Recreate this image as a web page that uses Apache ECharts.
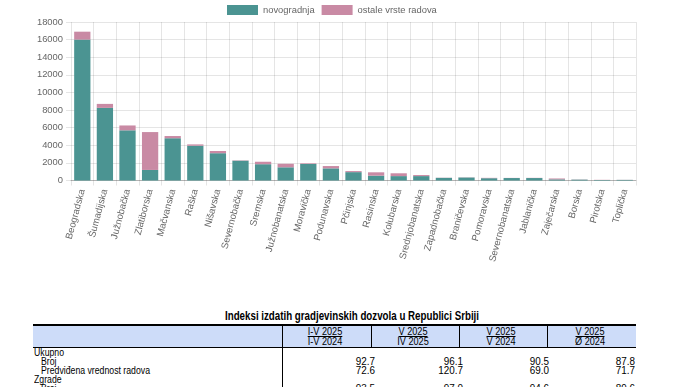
<!DOCTYPE html>
<html>
<head>
<meta charset="utf-8">
<script src="https://cdn.jsdelivr.net/npm/echarts@6/dist/echarts.min.js"></script>
<style>
  html, body { margin: 0; padding: 0; background: #fff; }
  body { width: 688px; height: 387px; position: relative; overflow: hidden; }
  #chart { position: absolute; left: 0; top: 0; width: 688px; height: 300px; }
  .t { position: absolute; font-family: "Liberation Sans", Arial, sans-serif; color: #000; white-space: nowrap; }
</style>
</head>
<body>
<div id="chart"></div>
<div id="table"></div>
<script>
// ---- chart data ----
const categories = ["Beogradska","Šumadijska","Južnobačka","Zlatiborska","Mačvanska","Raška","Nišavska","Severnobačka","Sremska","Južnobanatska","Moravička","Podunavska","Pčinjska","Rasinska","Kolubarska","Srednjobanatska","Zapadnobačka","Braničevska","Pomoravska","Severnobanatska","Jablanička","Zaječarska","Borska","Pirotska","Toplička"];
const novogradnja = [16000,8250,5700,1200,4800,3950,3100,2250,1850,1500,1880,1380,950,550,500,500,300,340,260,280,280,130,100,60,70];
const ostaleVrsteRadova = [900,450,550,4300,250,150,250,40,280,400,70,260,120,380,320,120,20,20,40,15,20,100,20,20,10];
const seriesNames = ["novogradnja","ostale vrste radova"];
const yTicks = { min: 0, max: 18000, interval: 2000 };

// ---- table data ----
const tableTitle = "Indeksi izdatih gradjevinskih dozvola u Republici Srbiji";
const headerTop = ["I-V 2025","V 2025","V 2025","V 2025"];
const headerBottom = ["I-V 2024","IV 2025","V 2024","Ø 2024"];
const rowLabels = ["Ukupno","Broj","Predviđena vrednost radova","Zgrade","Broj"];
const rowIndent = [false,true,true,false,true];
const rowValues = [null,["92.7","96.1","90.5","87.8"],["72.6","120.7","69.0","71.7"],null,["93.5","97.0","94.6","89.6"]];

const teal = "#4b9492", pink = "#c98aa4";
const chart = echarts.init(document.getElementById('chart'), null, { renderer: 'canvas' });
const font = '"Liberation Sans", Arial, sans-serif';
const grid = 'rgba(0,0,0,0.1)';
chart.setOption({
  animation: false,
  legend: {
    top: 5, left: 227, padding: 0, itemWidth: 31, itemHeight: 10, itemGap: 7,
    icon: 'rect',
    textStyle: { fontSize: 9.4, color: '#666', fontFamily: font },
    data: seriesNames
  },
  grid: { left: 71, top: 22, width: 565, height: 158.5 },
  xAxis: {
    type: 'category', data: categories,
    axisLine: { lineStyle: { color: 'rgba(0,0,0,0.22)' } },
    axisTick: { show: true, interval: 0, length: 5, lineStyle: { color: grid } },
    splitLine: { show: true, interval: 0, lineStyle: { color: grid } },
    axisLabel: { interval: 0, rotate: 75, fontSize: 9.6, color: '#666', fontFamily: font, margin: 9 }
  },
  yAxis: {
    type: 'value', min: yTicks.min, max: yTicks.max, interval: yTicks.interval,
    axisLine: { show: false },
    axisTick: { show: true, length: 5, lineStyle: { color: grid } },
    splitLine: { lineStyle: { color: grid } },
    axisLabel: { fontSize: 9.4, color: '#666', fontFamily: font, margin: 8, formatter: v => String(v) }
  },
  series: [
    { name: seriesNames[0], type: 'bar', stack: 's', data: novogradnja, itemStyle: { color: teal }, barCategoryGap: '28%', emphasis: { disabled: true } },
    { name: seriesNames[1], type: 'bar', stack: 's', data: ostaleVrsteRadova, itemStyle: { color: pink }, barCategoryGap: '28%', emphasis: { disabled: true } }
  ]
});

// ---- table (HTML) ----
const tb = document.getElementById('table');
function add(html, style) {
  const d = document.createElement('div');
  d.className = 't';
  d.innerHTML = html;
  Object.assign(d.style, style);
  tb.appendChild(d);
  return d;
}
const mctx = document.createElement('canvas').getContext('2d');
function tw(text, px, bold) {
  mctx.font = (bold ? 'bold ' : '') + px + 'px "Liberation Sans", Arial, sans-serif';
  return mctx.measureText(text).width;
}
const kTitle = 254 / tw(tableTitle, 12.5, true);
const kLabel = 109 / tw(rowLabels[2], 10);
const kHead = 29 / tw(headerTop[1], 10.5);
const kNum = 24.7 / tw("120.7", 10);

add(tableTitle, { left: '225px', top: '308.5px', fontSize: '12.5px', fontWeight: 'bold', lineHeight: '14px', transform: 'scaleX(' + kTitle + ')', transformOrigin: 'left center' });
add('', { left: '33px', top: '324px', width: '603px', height: '21px', background: '#cddcf9', borderTop: '2px solid #000', borderBottom: '1.5px solid #000' });
const colEdges = [282, 371, 459, 547, 636];
for (let i = 1; i < 4; i++) add('', { left: colEdges[i] + 'px', top: '325px', width: '1px', height: '22px', background: '#000' });
add('', { left: '281.5px', top: '325px', width: '1.2px', height: '70px', background: '#000' });
for (let i = 0; i < 4; i++) {
  const cx = (colEdges[i] + colEdges[i + 1]) / 2 - 2;
  add('<span style="text-decoration:underline">' + headerTop[i] + '</span>', { left: (cx - 40) + 'px', width: '80px', textAlign: 'center', top: '325.5px', fontSize: '10.5px', lineHeight: '10px', transform: 'scaleX(' + kHead + ')', transformOrigin: 'center center' });
  add(headerBottom[i], { left: (cx - 40) + 'px', width: '80px', textAlign: 'center', top: '335.5px', fontSize: '10.5px', lineHeight: '10px', transform: 'scaleX(' + kHead + ')', transformOrigin: 'center center' });
}
const rowY = [352.7, 361.7, 370.7, 380, 389];
const numRight = [375, 463, 548.5, 635];
rowLabels.forEach((lab, r) => {
  add(lab, { left: (rowIndent[r] ? 41 : 34) + 'px', top: (rowY[r] - 5) + 'px', fontSize: '10px', lineHeight: '10px', transform: 'scaleX(' + kLabel + ')', transformOrigin: 'left center' });
  if (rowValues[r]) rowValues[r].forEach((v, c) => {
    add(v, { left: (numRight[c] - 60) + 'px', width: '60px', textAlign: 'right', top: (rowY[r] - 5) + 'px', fontSize: '10px', lineHeight: '10px', transform: 'scaleX(' + kNum + ')', transformOrigin: 'right center' });
  });
});
</script>
</body>
</html>
